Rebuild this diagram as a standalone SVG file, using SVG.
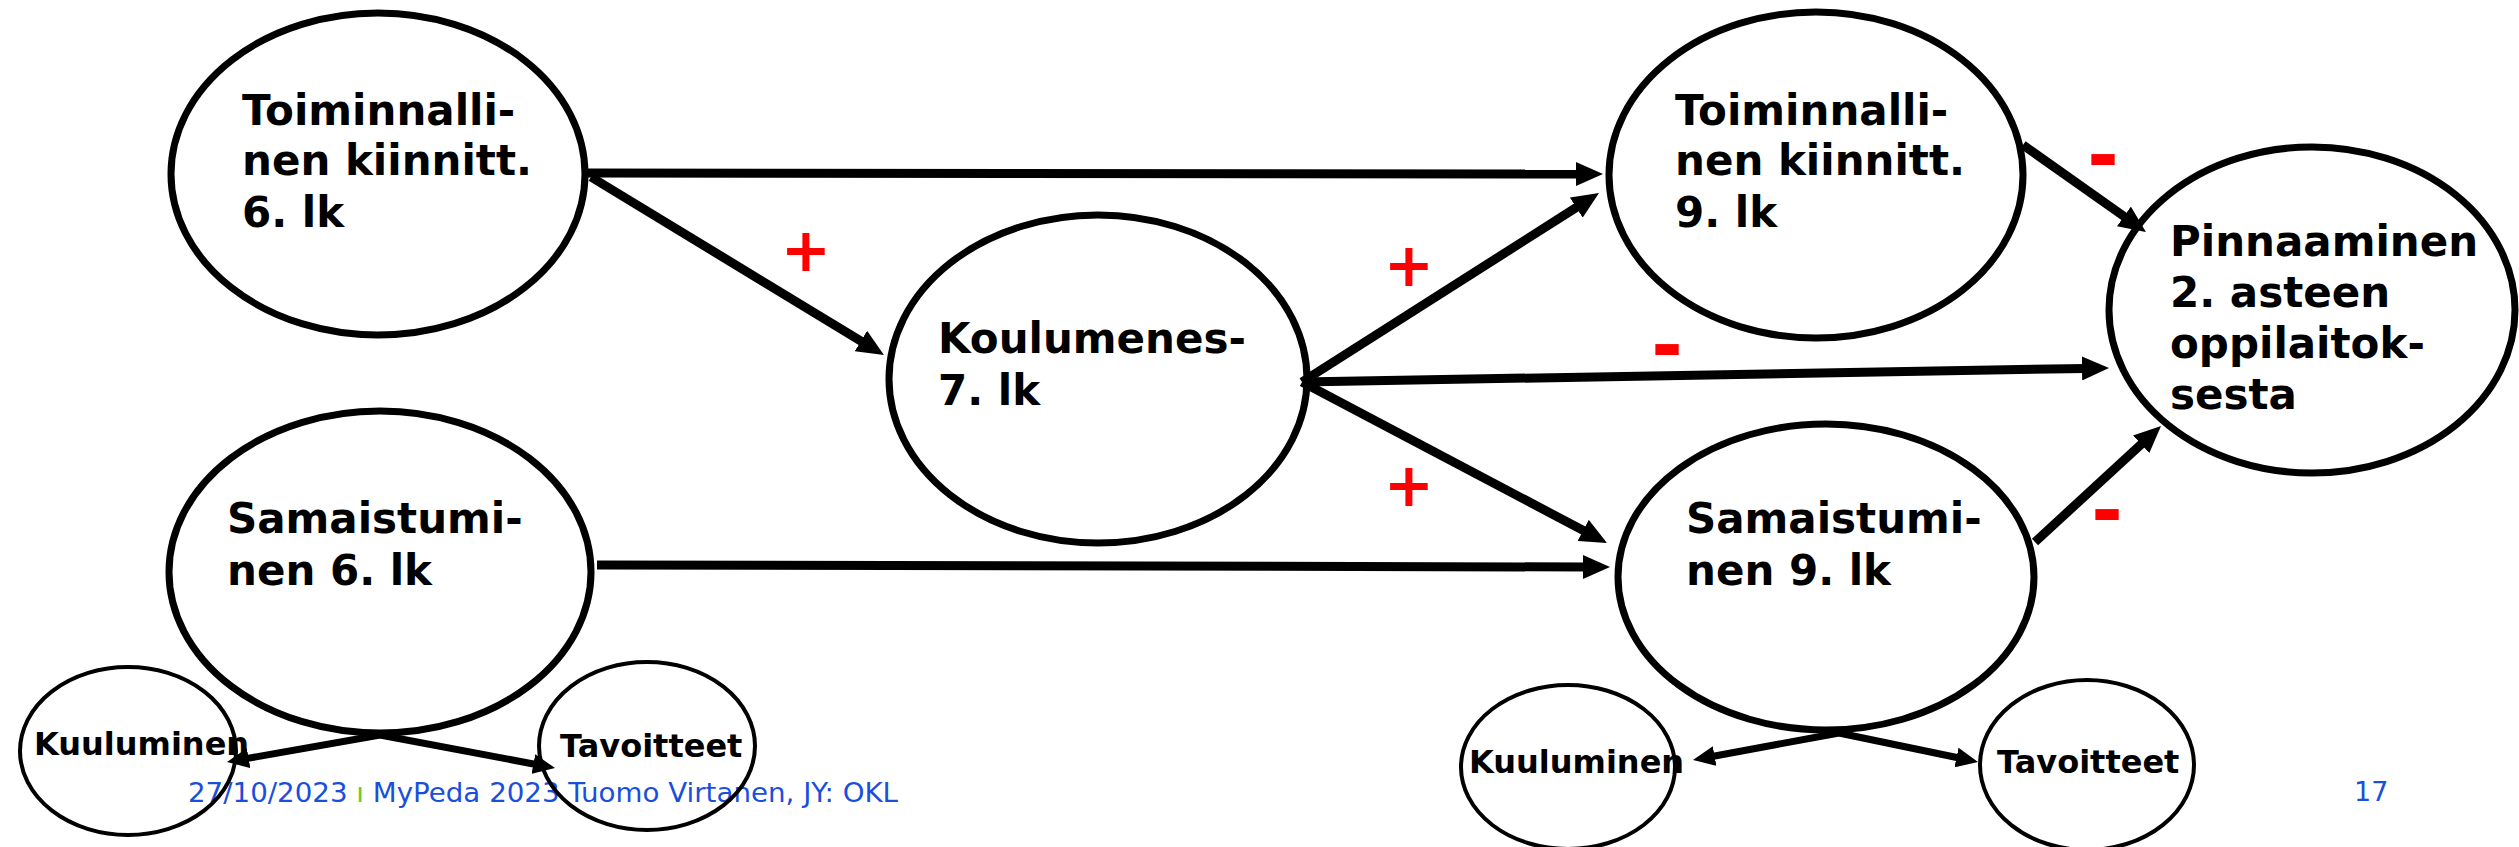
<svg xmlns="http://www.w3.org/2000/svg" width="2519" height="847" viewBox="0 0 2519 847">
<defs>
<style>
.big{fill:#fff;stroke:#000;stroke-width:7}
.small{fill:none;stroke:#000;stroke-width:4}
.lbl{font-family:"DejaVu Sans","Liberation Sans",sans-serif;font-weight:bold;font-size:42px;fill:#000}
.slbl{font-family:"DejaVu Sans","Liberation Sans",sans-serif;font-weight:bold;font-size:32px;fill:#000}
.plus{font-family:"DejaVu Sans","Liberation Sans",sans-serif;font-weight:bold;font-size:60px;fill:#ff0000;text-anchor:middle}
.minus{font-family:"DejaVu Sans","Liberation Sans",sans-serif;font-weight:bold;font-size:76px;fill:#ff0000;text-anchor:middle}
.foot{font-family:"DejaVu Sans","Liberation Sans",sans-serif;font-size:27px;fill:#1a4fdb}
.conn{stroke:#000;stroke-width:9;fill:none}
.sconn{stroke:#000;stroke-width:7;fill:none}
</style>
<marker id="ah" markerUnits="userSpaceOnUse" markerWidth="28" markerHeight="24" refX="4" refY="12" orient="auto">
<path d="M0,0 L27,12 L0,24 z" fill="#000"/>
</marker>
<marker id="sah" markerUnits="userSpaceOnUse" markerWidth="23" markerHeight="20" refX="4" refY="10" orient="auto">
<path d="M0,0 L22,10 L0,20 z" fill="#000"/>
</marker>
</defs>
<rect width="2519" height="847" fill="#fff"/>

<g id="footer">
<text class="foot" x="188" y="802" textLength="710" lengthAdjust="spacingAndGlyphs">27/10/2023 <tspan fill="#66cc22">ı</tspan> MyPeda 2023 Tuomo Virtanen, JY: OKL</text>
<text class="foot" x="2354" y="801">17</text>
</g>

<g id="node-toim6">
<ellipse class="big" cx="378" cy="174" rx="207" ry="161"/>
<text class="lbl" x="242" y="125">Toiminnalli-</text>
<text class="lbl" x="242" y="175">nen kiinnitt.</text>
<text class="lbl" x="242" y="227">6. lk</text>
</g>

<g id="node-sam6">
<ellipse class="big" cx="380" cy="572" rx="211" ry="161"/>
<text class="lbl" x="227" y="533">Samaistumi-</text>
<text class="lbl" x="227" y="585">nen 6. lk</text>
</g>

<g id="node-koul7">
<ellipse class="big" cx="1098" cy="379" rx="209" ry="164"/>
<text class="lbl" x="938" y="353">Koulumenes-</text>
<text class="lbl" x="938" y="405">7. lk</text>
</g>

<g id="node-toim9">
<ellipse class="big" cx="1816" cy="175" rx="207" ry="163"/>
<text class="lbl" x="1675" y="125">Toiminnalli-</text>
<text class="lbl" x="1675" y="175">nen kiinnitt.</text>
<text class="lbl" x="1675" y="227">9. lk</text>
</g>

<g id="node-sam9">
<ellipse class="big" cx="1826" cy="577" rx="208" ry="153"/>
<text class="lbl" x="1686" y="533">Samaistumi-</text>
<text class="lbl" x="1686" y="585">nen 9. lk</text>
</g>

<g id="node-pinn">
<ellipse class="big" cx="2312" cy="310" rx="203" ry="163"/>
<text class="lbl" x="2170" y="256">Pinnaaminen</text>
<text class="lbl" x="2170" y="307">2. asteen</text>
<text class="lbl" x="2170" y="358">oppilaitok-</text>
<text class="lbl" x="2170" y="409">sesta</text>
</g>

<g id="node-kuul6">
<ellipse class="small" cx="128" cy="751" rx="108" ry="84"/>
<text class="slbl" x="34" y="755">Kuuluminen</text>
</g>

<g id="node-tav6">
<ellipse class="small" cx="647" cy="746" rx="108" ry="84"/>
<text class="slbl" x="560" y="757">Tavoitteet</text>
</g>

<g id="node-kuul9">
<ellipse class="small" cx="1568" cy="767" rx="107" ry="82"/>
<text class="slbl" x="1469" y="773">Kuuluminen</text>
</g>

<g id="node-tav9">
<ellipse class="small" cx="2087" cy="765" rx="107" ry="85"/>
<text class="slbl" x="1997" y="773">Tavoitteet</text>
</g>

<g id="connectors">
<line class="conn" x1="588" y1="173" x2="1580" y2="174" marker-end="url(#ah)"/>
<line class="conn" x1="591" y1="177" x2="864.3" y2="343.1" marker-end="url(#ah)"/>
<line class="conn" x1="597" y1="565" x2="1587" y2="567" marker-end="url(#ah)"/>
<line class="conn" x1="1302" y1="382" x2="1579.6" y2="205.4" marker-end="url(#ah)"/>
<line class="conn" x1="1302" y1="382" x2="2086" y2="368.4" marker-end="url(#ah)"/>
<line class="conn" x1="1302" y1="382" x2="1586.7" y2="532.3" marker-end="url(#ah)"/>
<line class="conn" x1="2023" y1="145" x2="2127.2" y2="218.7" marker-end="url(#ah)"/>
<line class="conn" x1="2035" y1="542" x2="2144.1" y2="441.6" marker-end="url(#ah)"/>
<line class="sconn" x1="380" y1="735" x2="244.7" y2="758.9" marker-end="url(#sah)"/>
<line class="sconn" x1="380" y1="735" x2="537.3" y2="764.7" marker-end="url(#sah)"/>
<line class="sconn" x1="1839" y1="733" x2="1710.7" y2="756.7" marker-end="url(#sah)"/>
<line class="sconn" x1="1839" y1="733" x2="1960.4" y2="758.3" marker-end="url(#sah)"/>
</g>

<g id="signs">
<text class="plus" x="806" y="271">+</text>
<text class="plus" x="1409" y="286">+</text>
<text class="plus" x="1409" y="506">+</text>
<text class="minus" x="2103" y="182">-</text>
<text class="minus" x="1667" y="372">-</text>
<text class="minus" x="2107" y="537">-</text>
</g>
</svg>
